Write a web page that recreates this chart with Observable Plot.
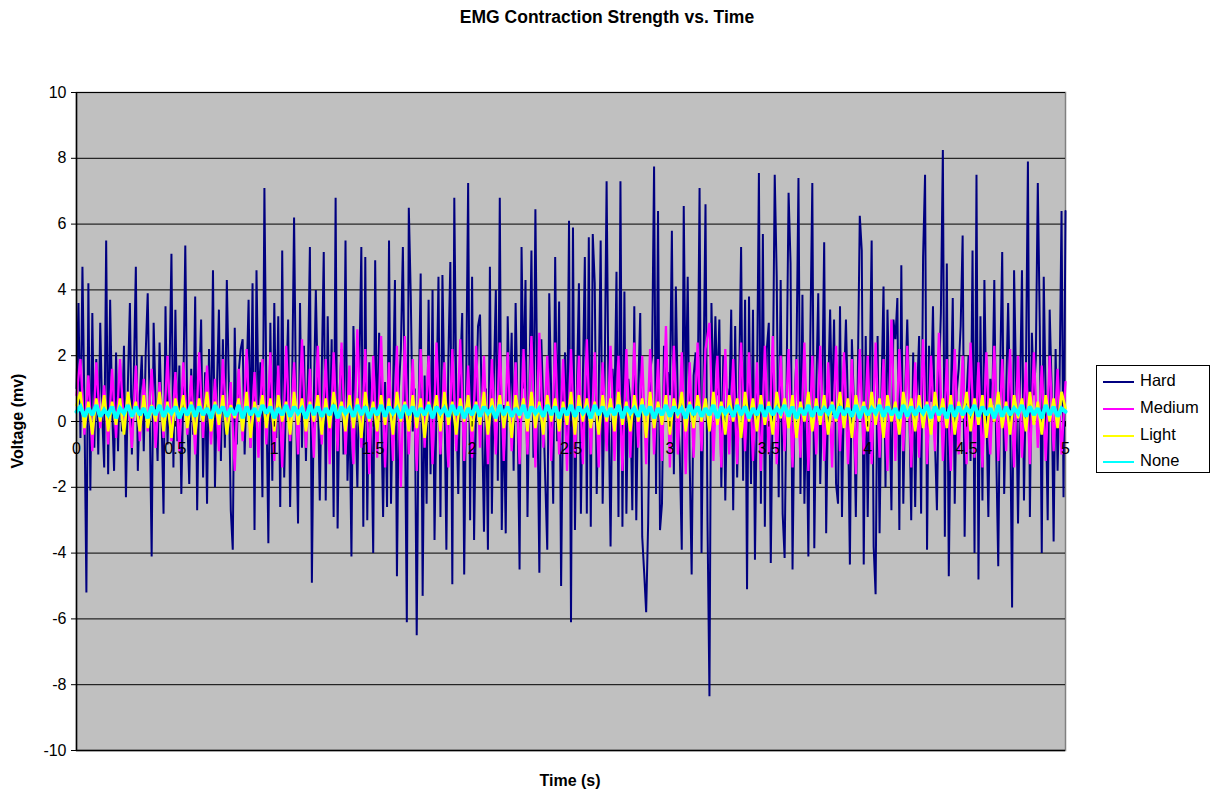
<!DOCTYPE html>
<html>
<head>
<meta charset="utf-8">
<script src="https://cdn.jsdelivr.net/npm/d3@7"></script>
<script src="https://cdn.jsdelivr.net/npm/@observablehq/plot@0.6"></script>
<style>
  html, body { margin: 0; padding: 0; background: #fff; }
  #wrap { position: relative; width: 1214px; height: 798px; font-family: "Liberation Sans", Arial, sans-serif; }
  #title { position: absolute; left: 0; width: 1214px; top: 7px; text-align: center; font-weight: bold; font-size: 17.5px; }
  #ylab { position: absolute; left: 18px; top: 421px; transform: translate(-50%, -50%) rotate(-90deg); font-weight: bold; font-size: 16px; white-space: nowrap; }
  #xlab { position: absolute; left: 570px; top: 781px; transform: translate(-50%, -50%); font-weight: bold; font-size: 16px; white-space: nowrap; }
  #legend { position: absolute; left: 1096px; top: 365px; width: 114px; height: 108px; border: 1px solid #000; background: #fff; box-sizing: border-box; }
  .item { position: absolute; left: 6px; height: 20px; font-size: 16.5px; line-height: 20px; }
  .item span.sw { display: inline-block; width: 31px; height: 0; border-top: 2px solid; vertical-align: middle; margin-right: 6px; }
  #chart { position: absolute; left: 0; top: 0; }
</style>
</head>
<body>
<div id="wrap">
  <div id="chart"></div>
  <div id="title">EMG Contraction Strength vs. Time</div>
  <div id="ylab">Voltage (mv)</div>
  <div id="xlab">Time (s)</div>
  <div id="legend"></div>
</div>
<script>
// ---- data (mV), sampled evenly from 0 to 5 s ----
const seriesNames = ["Hard", "Medium", "Light", "None"];
const seriesColors = ["#000080", "#FF00FF", "#FFFF00", "#00FFFF"];
const xTicks = [0, 0.5, 1, 1.5, 2, 2.5, 3, 3.5, 4, 4.5, 5];
const xTickLabels = ["0", "0.5", "1", "1.5", "2", "2.5", "3", "3.5", "4", "4.5", "5"];
const yTicks = [-10, -8, -6, -4, -2, 0, 2, 4, 6, 8, 10];

const hard = [
1.0, 3.6, -0.5, 4.7, 0.5, -5.2, 4.2, -2.1, 3.3, -0.8,
1.9, -1.0, 3.0, 0.2, -1.4, 5.5, -1.6, 3.7, 0.4, -1.5,
2.1, -0.9, 1.8, -0.3, 2.3, -2.3, 1.2, 3.6, -1.0, 1.5,
4.7, -1.5, 0.8, 2.0, -0.9, 2.1, 3.9, 0.3, -4.1, 3.0,
0.6, -1.2, 2.4, 0.2, -2.8, 3.5, -0.7, 1.4, 5.1, -1.4,
3.4, -0.6, 1.7, -2.2, 0.9, 5.35, 0.2, -1.9, 1.6, -0.4,
3.8, -2.7, 1.0, 3.1, -1.7, 1.5, -2.5, 2.2, -0.6, 4.6,
-2.0, 1.0, 3.4, -1.2, 2.5, -0.8, 4.3, 1.2, -2.7, -3.9,
2.85, -0.7, 1.5, 2.2, 2.5, -1.0, 1.2, 3.7, -0.8, 4.2,
-3.3, 4.6, 0.5, 1.8, -2.3, 7.1, 0.8, -3.7, 3.0, -1.8,
3.6, -0.5, 3.2, -2.6, 5.2, -1.7, 0.9, 3.1, -2.6, 1.0,
6.2, 0.4, -3.1, 3.6, -0.8, 2.3, -1.2, 1.5, 5.3, -4.9,
0.8, 4.0, 1.0, -2.4, 1.5, 5.15, -2.4, 3.2, -0.9, 2.5,
-2.9, 6.8, -3.25, 0.9, 2.2, -1.0, 5.5, -1.8, 0.6, -4.1,
2.9, 0.3, -2.0, 1.6, 5.3, -3.2, 5.0, -3.0, 1.8, 0.2,
-4.0, 4.9, -0.7, 2.7, 0.6, -2.9, 1.2, -2.6, 5.5, -2.5,
0.8, 4.3, -4.7, 1.0, 2.2, 5.3, 0.4, -6.1, 6.5, 3.8,
-0.3, 1.0, -6.5, 0.6, 4.5, -5.3, 1.4, -2.5, 3.7, -1.6,
4.0, -3.6, 0.5, 4.4, -2.9, 4.45, 0.8, -3.9, 1.9, 4.85,
-4.95, 6.8, 0.7, -2.2, 1.5, 3.3, -4.65, 1.1, 7.25, -3.0,
4.4, -3.6, 0.5, 2.9, 3.25, 0.2, -3.35, 1.0, -3.9, 4.7,
-2.8, 1.3, 4.0, -1.8, 6.8, -3.3, 0.5, -3.4, 3.2, 0.4,
2.7, -1.5, 3.6, 0.3, -4.5, 5.3, 1.0, 4.3, -2.9, 1.2,
5.2, -1.1, 6.45, 0.6, -4.6, 2.5, 0.4, -1.8, -3.9, 3.9,
0.8, -2.5, 5.0, -0.6, 3.65, -5.0, 0.9, 2.1, -1.0, 6.1,
-6.1, 5.9, -3.3, 1.0, 4.2, -2.8, 1.3, 5.0, -2.8, 5.6,
-3.2, 5.7, 4.2, -2.2, 0.9, 5.5, -2.5, 1.2, 7.3, 0.5,
-3.8, 1.6, 0.4, 4.55, -2.9, 7.3, -3.2, 3.95, -2.8, 1.3,
0.6, -2.7, 3.5, -3.0, 1.0, 3.3, -3.5, -4.6, -5.8, -3.1,
1.5, 2.0, 7.75, -2.2, 6.4, -3.3, -2.5, 2.3, 0.4, 1.5,
0.8, 5.8, -1.6, 4.1, 0.5, -1.0, -3.9, 6.55, 0.4, 4.4,
-1.2, -4.65, 1.4, 2.1, 0.3, 7.1, -4.0, 1.5, 6.6, -3.0,
-8.35, 3.6, 0.6, 3.2, 0.8, 3.1, -2.0, 2.0, -2.4, 1.0,
0.2, 3.4, -2.7, 2.9, -1.7, 1.2, 5.3, -1.8, 3.7, -5.1,
3.8, -1.9, 3.4, -4.2, 0.7, 7.55, -2.5, 5.7, -3.2, 2.2,
3.0, -4.3, 0.9, 7.5, 4.4, -2.3, 4.3, -2.8, -4.15, 1.2,
6.95, 4.8, -4.5, 0.6, 2.0, 7.4, -2.2, 3.85, -2.5, 0.8,
-4.1, 2.6, 7.25, -3.85, 1.0, 3.9, -1.9, 0.7, 5.45, -3.4,
0.9, 3.4, 0.2, 3.1, -1.9, -2.5, 3.5, -2.9, 1.0, 3.1,
0.4, -4.35, 2.5, 0.6, -2.9, 1.4, 6.25, 5.2, -4.35, 2.6,
-2.9, 1.2, 5.5, -3.8, -5.25, 2.6, -3.4, 1.0, 4.1, -2.0,
3.4, 0.6, -2.7, 3.1, 2.5, 3.75, -3.3, 4.75, -2.5, 1.0,
3.1, 0.5, -3.0, 2.1, -2.6, 0.9, 2.6, -2.8, 5.0, 7.5,
-3.9, 2.3, 0.6, 3.5, -0.6, -2.7, 1.2, 3.3, 8.25, -3.5,
4.8, -4.7, 0.5, 3.75, -2.5, 0.9, 1.6, 2.9, 5.65, -3.5,
0.8, 2.0, -1.2, 5.2, -4.0, 7.5, -4.8, 3.2, -2.4, 4.3,
0.4, -2.9, 1.3, 0.5, 4.3, -1.0, -4.4, 1.6, 5.15, -2.2,
0.9, 3.6, 0.4, -5.65, 4.6, 1.2, -3.1, 0.8, 4.6, -2.4,
1.5, 7.9, -2.9, 2.7, 0.8, 1.9, 7.25, 2.9, -4.0, 4.4,
0.6, -3.0, 3.4, 1.0, -3.65, 2.2, -1.5, 1.2, 6.4, -2.3,
6.4
];

const medium = [
0.8, 1.9, -0.4, 1.4, -0.9, 1.8, -0.2, 1.1, -0.7, 1.6,
-0.5, 1.9, -0.2, 0.9, -0.8, 1.7, -0.6, 1.3, -0.3, 1.6,
-0.8, 1.2, -0.5, 2.0, -0.6, 1.5, -0.9, 1.8, -0.4, 1.4,
-1.0, 2.1, -0.5, 1.7, -0.7, 1.3, -0.9, 1.9, -0.3, 1.2,
-1.5, 1.6, -0.6, 2.2, -0.8, 1.5, -1.1, 1.9, -0.7, 2.1,
-1.2, 1.7, -1.4, 2.3, -0.6, 1.8, -1.0, 2.5, -0.8, 1.6,
-1.1, 2.3, -0.7, 1.9, -1.3, 2.1, -0.9, 2.4, -1.0, 1.7,
-1.3, 2.8, -0.8, 2.2, -1.6, 2.0, -1.1, 2.6, -1.4, 1.8,
-1.2, 2.3, -2.0, 2.6, -1.0, 1.9, -1.5, 2.2, -0.8, 2.0,
-1.3, 2.4, -1.0, 1.8, -1.4, 2.2, -0.9, 2.5, -1.2, 1.7,
-1.1, 2.3, -0.8, 2.0, -1.3, 1.9, -1.0, 2.4, -1.2, 2.1,
-0.9, 1.8, -1.3, 2.2, -1.0, 2.6, -1.4, 2.7, -0.8, 2.0,
-1.2, 2.4, -1.0, 1.9, -1.5, 2.2, -1.1, 2.0, -1.3, 2.5,
-1.0, 2.1, -1.4, 1.8, -0.9, 2.3, -1.2, 2.0, -1.5, 2.2,
-1.1, 2.4, -0.8, 2.0, -1.3, 2.2, -1.0, 1.9, -1.2, 2.9,
-1.4, 2.3, -1.0, 2.1, -1.6, 1.8, -1.1, 2.4, -0.9, 2.2,
3.0, -1.2, 2.0, -1.4, 2.2, -1.0, 1.9, -1.3, 2.4, -0.9,
2.1, -1.2, 1.8, -1.5, 2.3, -1.0, 2.6, -1.3, 2.0, -0.9,
2.2, -1.4, 1.9, -1.1, 2.4, -1.5, 2.0, -1.0, 2.3, -1.2,
1.8, -1.4, 2.3, -0.9, 2.1, -1.3, 1.9, -1.6, 2.2, -1.0,
2.0, -1.3, 2.4, -1.1, 1.9, -1.5, 3.1, -1.2, 2.2, -0.9,
2.3, -1.4, 1.8, -1.1, 2.5, -1.3, 2.0, -0.9, 2.7, -1.2,
1.9, -1.5, 2.2, -1.0, 2.0, -1.3, 2.4, -1.1, 1.8, -1.4,
2.1, -1.0, 2.3, -1.2, 1.9, -0.9, 2.2, -1.4, 2.0, -1.1,
1.8, -1.3, 2.1, -0.8, 1.7, -1.2, 2.0, -0.9, 1.6, -1.0,
1.2
];

const light = [
0.5, 0.9, -0.2, 0.6, -0.4, 0.7, 0.0, 0.8, -0.3, 0.6,
-0.1, 0.7, -0.4, 0.9, 0.1, 0.6, -0.3, 0.8, -0.2, 0.5,
0.0, 0.9, -0.3, 0.6, -0.5, 0.7, 0.1, 0.8, -0.2, 0.6,
-0.4, 0.7, 0.0, 0.9, -0.3, 0.6, -0.1, 0.8, -0.4, 0.5,
0.1, 0.7, -0.3, 0.9, -0.5, 0.6, 0.0, 0.8, -0.2, 0.7,
-0.3, 0.8, 0.0, 0.6, -0.4, 0.9, -0.1, 0.7, -0.3, 0.6,
0.0, 0.8, -0.4, 0.7, -0.2, 0.9, 0.1, 0.6, -0.3, 0.8,
-0.2, 0.7, -0.5, 0.9, 0.0, 0.6, -0.3, 0.8, -0.1, 0.7,
-0.4, 0.9, 0.0, 0.6, -0.3, 0.8, -0.2, 0.7, -0.5, 0.6,
0.1, 0.8, -0.3, 0.9, -0.1, 0.6, -0.4, 0.7, 0.0, 0.8,
-0.3, 0.6, -0.1, 0.9, -0.4, 0.7, 0.0, 0.8, -0.2, 0.6,
-0.5, 0.8, 0.1, 0.7, -0.3, 0.9, -0.2, 0.6, -0.4, 0.8,
0.0, 0.7, -0.3, 0.6, -0.1, 0.9, -0.4, 0.8, 0.0, 0.7,
-0.2, 0.6, -0.4, 0.8, 0.0, 0.7, -0.3, 0.9, -0.1, 0.6,
-0.3, 0.8, 0.0, 0.7, -0.5, 0.9, -0.2, 0.6, -0.1, 0.8,
-0.4, 0.7, 0.1, 0.9, -0.3, 0.6, -0.2, 0.8, 0.0, 0.7,
-0.3, 0.9, -0.1, 0.6, -0.4, 0.8, 0.0, 0.7, -0.5, 0.9,
0.0, 0.7, -0.3, 0.8, -0.1, 0.6, -0.4, 0.9, 0.1, 0.7,
-0.2, 0.8, -0.5, 0.6, 0.0, 0.9, -0.3, 0.7, -0.1, 0.8,
-0.4, 0.6, 0.0, 0.9, -0.2, 0.7, -0.5, 0.8, 0.1, 0.6,
-0.3, 0.9, -0.1, 0.7, -0.5, 0.8, 0.0, 0.6, -0.4, 0.9,
0.1, 0.7, -0.3, 0.8, -0.2, 0.6, -0.4, 0.9, 0.0, 0.7,
-0.2, 0.8, -0.4, 0.6, 0.1, 0.9, -0.3, 0.7, -0.1, 0.8,
-0.5, 0.7, 0.0, 0.9, -0.2, 0.6, -0.4, 0.8, 0.1, 0.7,
-0.3, 0.9, -0.1, 0.6, -0.4, 0.8, 0.0, 0.7, -0.2, 0.9,
0.4
];

const none = [
0.3, 0.45, 0.15, 0.4, 0.2, 0.5, 0.15, 0.35, 0.2, 0.45,
0.1, 0.4, 0.25, 0.5, 0.15, 0.45, 0.2, 0.4, 0.1, 0.45,
0.2, 0.5, 0.15, 0.4, 0.25, 0.45, 0.1, 0.4, 0.2, 0.5,
0.15, 0.45, 0.2, 0.4, 0.1, 0.5, 0.25, 0.45, 0.15, 0.4,
0.2, 0.5, 0.1, 0.45, 0.2, 0.4, 0.15, 0.5, 0.25, 0.45,
0.1, 0.4, 0.2, 0.5, 0.15, 0.45, 0.25, 0.4, 0.1, 0.5,
0.2, 0.45, 0.15, 0.4, 0.2, 0.5, 0.1, 0.45, 0.25, 0.4,
0.15, 0.5, 0.2, 0.45, 0.1, 0.4, 0.2, 0.5, 0.15, 0.45,
0.25, 0.4, 0.1, 0.5, 0.2, 0.45, 0.15, 0.4, 0.2, 0.5,
0.1, 0.45, 0.25, 0.4, 0.15, 0.5, 0.2, 0.45, 0.1, 0.4,
0.2, 0.5, 0.15, 0.45, 0.25, 0.4, 0.1, 0.5, 0.2, 0.45,
0.15, 0.4, 0.2, 0.5, 0.1, 0.45, 0.25, 0.4, 0.15, 0.5,
0.2, 0.45, 0.1, 0.4, 0.2, 0.5, 0.15, 0.45, 0.25, 0.4,
0.1, 0.5, 0.2, 0.45, 0.15, 0.4, 0.2, 0.5, 0.1, 0.45,
0.25, 0.4, 0.15, 0.5, 0.2, 0.45, 0.1, 0.4, 0.2, 0.5,
0.15, 0.45, 0.25, 0.4, 0.1, 0.5, 0.2, 0.45, 0.15, 0.4,
0.2, 0.5, 0.1, 0.45, 0.25, 0.4, 0.15, 0.5, 0.2, 0.45,
0.1, 0.4, 0.2, 0.5, 0.15, 0.45, 0.2, 0.4, 0.25, 0.5,
0.15, 0.45, 0.1, 0.4, 0.2, 0.5, 0.15, 0.45, 0.2, 0.4,
0.25, 0.5, 0.1, 0.45, 0.2, 0.4, 0.15, 0.5, 0.1, 0.45,
0.2, 0.4, 0.25, 0.5, 0.15, 0.45, 0.2, 0.4, 0.1, 0.5,
0.15, 0.45, 0.2, 0.4, 0.25, 0.5, 0.1, 0.45, 0.2, 0.4,
0.1, 0.5, 0.15, 0.45, 0.2, 0.4, 0.25, 0.5, 0.15, 0.45,
0.2, 0.4, 0.1, 0.5, 0.15, 0.45, 0.2, 0.4, 0.25, 0.5,
0.15, 0.45, 0.2, 0.4, 0.1, 0.5, 0.2, 0.45, 0.15, 0.4,
0.3
];

// ---- build ----
const allSeries = [hard, medium, light, none];
const widths = [2, 2.3, 2.6, 4];
const timeOf = (arr) => (d, i) => i * 5 / (arr.length - 1);

const lineMarks = allSeries.map((arr, k) =>
  Plot.line(arr, {x: timeOf(arr), y: d => d, stroke: seriesColors[k], strokeWidth: widths[k], strokeLinejoin: "miter", strokeMiterlimit: 2})
);

const chart = Plot.plot({
  width: 1214,
  height: 798,
  marginTop: 92,
  marginLeft: 76,
  marginRight: 149,
  marginBottom: 48,
  style: {fontFamily: "'Liberation Sans', Arial, sans-serif", fontSize: "16px", color: "#000", background: "transparent"},
  x: {domain: [0, 5], axis: null},
  y: {domain: [-10, 10], axis: null},
  marks: [
    Plot.frame({fill: "#C0C0C0", stroke: "#808080", strokeWidth: 1.5}),
    Plot.ruleY(yTicks, {stroke: "#000", strokeWidth: 1}),
    ...lineMarks,
    Plot.ruleX([0], {stroke: "#000", strokeWidth: 1.5}),
    Plot.ruleY([-10], {stroke: "#000", strokeWidth: 1.5}),
    Plot.ruleX(xTicks, {x: d => d, y1: 0, y2: -0.17, stroke: "#000"}),
    Plot.axisY({ticks: yTicks, tickSize: 5, tickPadding: 5, fontSize: 16, tickFormat: d => String(d)}),
    Plot.text(xTicks, {x: d => d, y: 0, dy: 27, text: (d, i) => xTickLabels[i], fontSize: 16, fill: "#000"})
  ]
});
document.getElementById("chart").appendChild(chart);

// legend
const legend = document.getElementById("legend");
const rowsY = [4, 31, 58, 84];
seriesNames.forEach((name, k) => {
  const item = document.createElement("div");
  item.className = "item";
  item.style.top = rowsY[k] + "px";
  const sw = document.createElement("span");
  sw.className = "sw";
  sw.style.borderTopColor = seriesColors[k];
  item.appendChild(sw);
  item.appendChild(document.createTextNode(name));
  legend.appendChild(item);
});
</script>
</body>
</html>
